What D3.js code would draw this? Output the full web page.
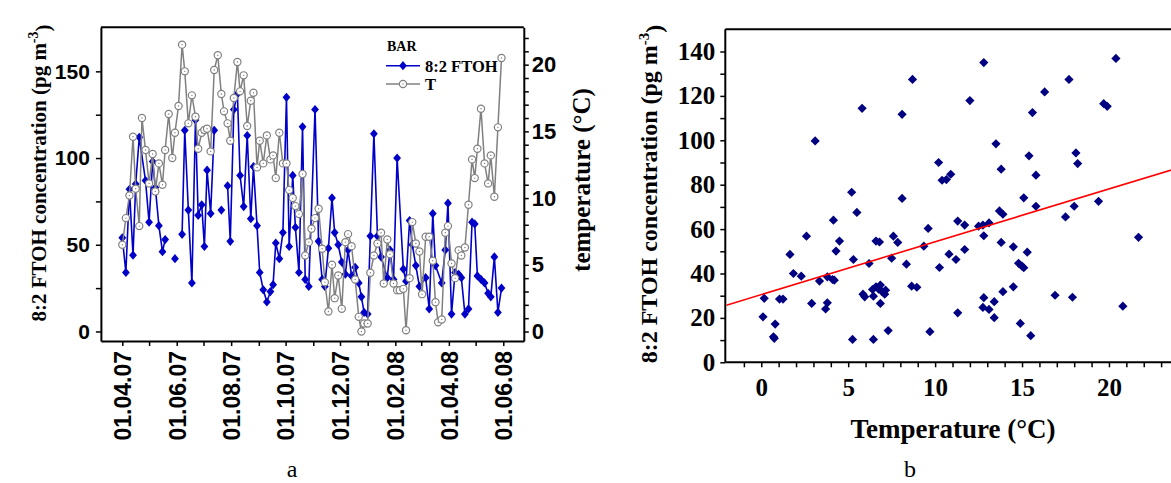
<!DOCTYPE html>
<html><head><meta charset="utf-8">
<script src="https://cdn.jsdelivr.net/npm/d3@7"></script>
<style>body{margin:0;background:#fff;} svg{display:block;}</style>
</head><body>
<svg id="c" width="1171" height="483"></svg>
<script>
// ---------------- DATA ----------------
// Panel a: temperature time series (right axis)
const tDates = ["2007-04-01","2007-04-05","2007-04-09","2007-04-13","2007-04-16","2007-04-20","2007-04-23","2007-04-27","2007-05-01","2007-05-05",
"2007-05-08","2007-05-12","2007-05-16","2007-05-19","2007-05-23","2007-05-27","2007-05-30","2007-06-03","2007-06-07","2007-06-10",
"2007-06-14","2007-06-18","2007-06-22","2007-06-25","2007-06-29","2007-07-02","2007-07-05","2007-07-09","2007-07-13","2007-07-17",
"2007-07-21","2007-07-24","2007-07-28","2007-07-31","2007-08-04","2007-08-08","2007-08-11","2007-08-15","2007-08-19","2007-08-23",
"2007-08-26","2007-08-30","2007-09-02","2007-09-06","2007-09-10","2007-09-14","2007-09-17","2007-09-20","2007-09-24","2007-09-28",
"2007-10-02","2007-10-05","2007-10-09","2007-10-12","2007-10-16","2007-10-20","2007-10-23","2007-10-27","2007-10-30","2007-11-03",
"2007-11-07","2007-11-11","2007-11-14","2007-11-18","2007-11-22","2007-11-25","2007-11-29","2007-12-03","2007-12-07","2007-12-10",
"2007-12-14","2007-12-18","2007-12-22","2007-12-25","2007-12-28","2008-01-01","2008-01-04","2008-01-08","2008-01-12","2008-01-16",
"2008-01-19","2008-01-23","2008-01-26","2008-01-30","2008-02-03","2008-02-06","2008-02-10","2008-02-13","2008-02-17","2008-02-20",
"2008-02-24","2008-02-28","2008-03-02","2008-03-06","2008-03-10","2008-03-14","2008-03-17","2008-03-20","2008-03-24","2008-03-28",
"2008-03-31","2008-04-04","2008-04-08","2008-04-12","2008-04-15","2008-04-19","2008-04-23","2008-04-27","2008-04-30","2008-05-03",
"2008-05-07","2008-05-11","2008-05-15","2008-05-18","2008-05-22","2008-05-26","2008-05-30"];
const tValues = [6.5,8.5,10.2,14.6,10.7,7.9,16,13.6,11.1,13.3,
10.5,12.6,11,13.6,16.3,13,14.9,16.9,21.5,19.5,
15.6,17.7,16.1,13.7,14.9,15.1,15.2,13.5,19.6,20.7,
17.8,16.5,15.6,14.3,17.5,20.2,18,19.2,15.4,17.3,
17.9,12.3,14.3,12.6,14.7,12.9,13.2,11.5,14.9,12.6,
12.6,10.6,10,9.4,8.8,11.8,5.7,6.7,7.7,8.5,
9.2,6.2,3.7,1.5,5,2.5,4.2,1.7,6.7,7.3,
6.4,3.9,1.1,0,0.6,0.6,4.4,5.7,6.6,7.4,
3.6,6.9,5.8,3.6,3.1,3.1,3.2,0.1,4,8.2,
6.6,6,2.8,7.1,7.1,5.3,2.2,0.7,0.9,7.4,
7.9,5.1,4,6.1,5.7,6.3,9.5,12.9,11.5,13.7,
16.7,12.6,11.1,13.2,10.1,15.3,20.5];

// Panel a: 8:2 FTOH time series (left axis); null = break in the line
const ftohDates = ["2007-04-01","2007-04-05","2007-04-09","2007-04-13","2007-04-16","2007-04-20","2007-04-27","2007-05-01","2007-05-05","2007-05-08",
"2007-05-12","2007-05-16","2007-05-19","2007-05-23","2007-05-30","2007-06-03","2007-06-07","2007-06-10","2007-06-14","2007-06-18",
"2007-06-22","2007-06-25","2007-06-29","2007-07-02","2007-07-05","2007-07-09","2007-07-13","2007-07-17","2007-07-21","2007-07-24",
"2007-07-28","2007-07-31","2007-08-04","2007-08-08","2007-08-11","2007-08-15","2007-08-19","2007-08-23","2007-08-26","2007-08-30",
"2007-09-02","2007-09-06","2007-09-10","2007-09-14","2007-09-17","2007-09-20","2007-09-24","2007-09-28","2007-10-02","2007-10-05",
"2007-10-09","2007-10-12","2007-10-16","2007-10-20","2007-10-23","2007-10-27","2007-11-03","2007-11-07","2007-11-11","2007-11-14",
"2007-11-18","2007-11-22","2007-11-25","2007-11-29","2007-12-03","2007-12-07","2007-12-10","2007-12-14","2007-12-18","2007-12-22",
"2007-12-25","2007-12-28","2008-01-01","2008-01-04","2008-01-08","2008-01-12","2008-01-16","2008-01-23","2008-01-26","2008-01-30",
"2008-02-03","2008-02-10","2008-02-13","2008-02-17","2008-02-20","2008-02-24","2008-02-28","2008-03-06","2008-03-10","2008-03-14",
"2008-03-17","2008-03-24","2008-03-28","2008-03-31","2008-04-04","2008-04-08","2008-04-12","2008-04-15","2008-04-19","2008-04-23",
"2008-04-27","2008-04-30","2008-05-03","2008-05-07","2008-05-11","2008-05-15","2008-05-18","2008-05-22","2008-05-26","2008-05-30"];
const ftohValues = [54,34,82,44,85,112,87,63,98,83,
61,46,53,null,42,null,56,116,70,28,
122,67,73,49,93,68,116,null,70,null,
84,52,128,137,90,72,113,65,95,61,
34,24,17,23,27,51,42,57,135,49,
90,60,34,118,30,26,128,52,30,26,
48,77,57,50,40,33,47,32,37,28,
20,11,10,55,114,55,43,31,47,30,
100,36,29,64,50,38,26,31,13,68,
38,28,47,74,10,34,33,31,10,13,
63,62,32,30,28,22,20,43,11,25];

const xTickLabelsA = ["01.04.07","01.06.07","01.08.07","01.10.07","01.12.07","01.02.08","01.04.08","01.06.08"];

// Panel b: scatter FTOH vs temperature
const scatterT = [3.1,5.8,5.2,8.7,12.8,8.1,12.0,16.3,17.7,20.4,
15.6,19.7,19.9,13.5,15.4,18.1,18.2,10.2,13.8,15.8,
10.4,10.65,10.9,8.1,15.1,19.4,5.5,4.15,2.6,4.5,
4.3,1.65,5.3,6.6,6.8,6.2,7.5,1.85,2.3,3.35,
3.8,4.1,4.2,0.17,1.05,1.25,2.9,3.8,3.7,0.1,
0.8,0.7,0.75,5.25,6.45,5.85,5.95,6.4,6.45,6.6,
6.75,6.85,6.95,7.15,7.1,6.85,7.3,15.8,18.0,17.5,
13.7,13.9,11.3,11.7,9.6,12.5,12.75,13.1,12.8,7.6,
7.85,9.35,13.8,14.5,15.3,11.7,10.8,11.2,8.35,10.25,
14.8,15.0,15.1,14.5,13.9,12.8,13.4,12.75,13.1,13.4,
11.3,8.65,8.95,9.7,14.9,15.5,16.9,17.9,20.8,21.7];
const scatterFTOH = [99.7,114.4,76.6,127.4,135,111.7,117.9,121.8,127.4,136.9,
112.5,116.5,115.3,98.4,93,94.3,89.5,90,87,84.3,
82,82.3,84.7,73.8,74.1,72.5,67.5,64,56.8,54.6,
50.1,48.6,46.3,54.6,54.2,44.5,46.9,40,38.8,36.6,
38.5,37.3,37,28.8,28.5,28.5,26.5,26.8,24,20.5,
17.2,11.5,10.8,10.3,10.3,30.7,29.5,32.8,29.8,34,
33,34.8,31.8,32.5,30.7,26.5,14.3,70.3,70.3,65.5,
68.2,66.7,63.6,61.8,60.3,61.3,61.8,62.8,57,56.8,
54,52.3,54,52,49.6,50.8,48.7,46.3,44.2,42.7,
44.6,43.3,42.6,34,31.8,29.1,27.3,24.7,23.8,20.1,
22.3,34.3,33.8,13.8,17.5,12,30.2,29.3,25.3,56.3];
// linear fit line
const fitIntercept = 30.5;
const fitSlope = 2.38;

// ---------------- DRAW ----------------
const svg = d3.select("#c");
svg.append("rect").attr("width",1171).attr("height",483).attr("fill","#fff");
const serif = "'Liberation Serif','Times New Roman',serif";
const sans = "'Liberation Sans',Arial,sans-serif";
const parse = d3.utcParse("%Y-%m-%d");
const fmtA = d3.utcFormat("%d.%m.%y");

function styleAxis(g, font, size){
  g.select(".domain").attr("stroke","#000").attr("stroke-width",2);
  g.selectAll(".tick line").attr("stroke","#000").attr("stroke-width",1.5);
  g.selectAll(".tick text").attr("font-family",font).attr("font-size",size)
    .attr("font-weight","bold").attr("fill","#000");
}

// ===== Panel a =====
const A = {left:100.9, right:523.8, top:27.3, bottom:341};
const xA = d3.scaleUtc().domain([parse("2007-03-08"), parse("2008-06-24")]).range([A.left, A.right]);
const yF = d3.scaleLinear().domain([-5.5, 175.4]).range([A.bottom, A.top]);
const yT = d3.scaleLinear().domain([-0.71, 22.8]).range([A.bottom, A.top]);

const gA = svg.append("g");
gA.append("line").attr("x1",A.left).attr("x2",A.right).attr("y1",A.top).attr("y2",A.top)
  .attr("stroke","#000").attr("stroke-width",2);

const monthTicks = d3.utcMonth.range(parse("2007-04-01"), parse("2008-06-02"));
const gxA = gA.append("g").attr("transform",`translate(0,${A.bottom})`)
  .call(d3.axisBottom(xA).tickValues(monthTicks).tickSize(5).tickSizeOuter(0)
    .tickFormat(d => xTickLabelsA.includes(fmtA(d)) ? fmtA(d) : ""));
styleAxis(gxA, sans, 23);
gxA.selectAll(".tick text").attr("transform","rotate(-90)").attr("text-anchor","end")
  .attr("x",-10).attr("y",0).attr("dy","0.36em");

const gyF = gA.append("g").attr("transform",`translate(${A.left},0)`)
  .call(d3.axisLeft(yF).tickValues(d3.range(0,151,25)).tickSize(5).tickSizeOuter(0).tickPadding(6)
    .tickFormat(d => d % 50 === 0 ? d : ""));
styleAxis(gyF, sans, 21);

const gyT = gA.append("g").attr("transform",`translate(${A.right},0)`)
  .call(d3.axisRight(yT).tickValues(d3.range(0,23,1)).tickSize(5).tickSizeOuter(0).tickPadding(3)
    .tickFormat(d => d % 5 === 0 ? d : ""));
styleAxis(gyT, sans, 22);

const blue = "#0000c8", gray = "#808080";
const diamondA = "M0,-4.6L3.9,0L0,4.6L-3.9,0Z";

const ftohData = ftohDates.map((d,i)=>({date:parse(d), v:ftohValues[i]}));
const tData = tDates.map((d,i)=>({date:parse(d), v:tValues[i]}));

gA.append("path").datum(ftohData)
  .attr("d", d3.line().defined(d=>d.v!=null).x(d=>xA(d.date)).y(d=>yF(d.v)))
  .attr("fill","none").attr("stroke",blue).attr("stroke-width",1.6);
gA.selectAll(".dA").data(ftohData.filter(d=>d.v!=null)).join("path")
  .attr("d",diamondA).attr("transform",d=>`translate(${xA(d.date)},${yF(d.v)})`).attr("fill",blue);

gA.append("path").datum(tData)
  .attr("d", d3.line().x(d=>xA(d.date)).y(d=>yT(d.v)))
  .attr("fill","none").attr("stroke",gray).attr("stroke-width",1.5);
const tPts = gA.selectAll(".cA").data(tData).join("g")
  .attr("transform",d=>`translate(${xA(d.date)},${yT(d.v)})`);
tPts.append("circle").attr("r",3.6).attr("fill","#fff").attr("stroke",gray).attr("stroke-width",1.2);
tPts.append("circle").attr("r",0.7).attr("fill",gray);

// legend
const lg = gA.append("g");
lg.append("text").attr("x",387).attr("y",51).text("BAR")
  .attr("font-family",serif).attr("font-weight","bold").attr("font-size",14);
lg.append("line").attr("x1",386).attr("x2",420).attr("y1",65.7).attr("y2",65.7).attr("stroke",blue).attr("stroke-width",1.6);
lg.append("path").attr("d",diamondA).attr("transform","translate(403,65.7)").attr("fill",blue);
lg.append("text").attr("x",425).attr("y",71.5).text("8:2 FTOH")
  .attr("font-family",serif).attr("font-weight","bold").attr("font-size",16.5);
lg.append("line").attr("x1",386).attr("x2",420).attr("y1",84).attr("y2",84).attr("stroke",gray).attr("stroke-width",1.5);
lg.append("circle").attr("cx",403).attr("cy",84).attr("r",3.6).attr("fill","#fff").attr("stroke",gray).attr("stroke-width",1.2);
lg.append("circle").attr("cx",403).attr("cy",84).attr("r",0.7).attr("fill",gray);
lg.append("text").attr("x",425).attr("y",90).text("T")
  .attr("font-family",serif).attr("font-weight","bold").attr("font-size",16.5);

// axis titles panel a
const yTitleA = gA.append("text").attr("transform","translate(46,173) rotate(-90)")
  .attr("text-anchor","middle").attr("font-family",serif).attr("font-weight","bold").attr("font-size",21);
yTitleA.append("tspan").text("8:2 FTOH concentration (pg m");
yTitleA.append("tspan").attr("dy","-0.55em").attr("font-size",14).text("-3");
yTitleA.append("tspan").attr("dy","0.55em").text(")");
gA.append("text").attr("transform","translate(590,180) rotate(-90)")
  .attr("text-anchor","middle").attr("font-family",serif).attr("font-weight","bold").attr("font-size",25)
  .text("temperature (°C)");
gA.append("text").attr("x",292).attr("y",477).attr("text-anchor","middle")
  .attr("font-family",serif).attr("font-size",24).text("a");

// ===== Panel b =====
const B = {left:725.3, top:29.3, bottom:362.3};
const xB = d3.scaleLinear().domain([-2,24]).range([726.5,1178.5]);
const yB = d3.scaleLinear().domain([0,150]).range([B.bottom,B.top]);
const gB = svg.append("g");
gB.append("line").attr("x1",B.left).attr("x2",1171).attr("y1",B.top).attr("y2",B.top)
  .attr("stroke","#000").attr("stroke-width",2);

const gxB = gB.append("g").attr("transform",`translate(0,${B.bottom})`)
  .call(d3.axisBottom(xB).tickValues(d3.range(-1,24,1)).tickSize(5).tickSizeOuter(0).tickPadding(11)
    .tickFormat(d => d % 5 === 0 ? d : ""));
gxB.select(".domain").attr("d",`M${B.left},0H1171`);
styleAxis(gxB, serif, 25);

const gyB = gB.append("g").attr("transform",`translate(${B.left},0)`)
  .call(d3.axisLeft(yB).tickValues(d3.range(0,141,10)).tickSize(5).tickSizeOuter(0).tickPadding(5)
    .tickFormat(d => d % 20 === 0 ? d : ""));
gyB.select(".domain").attr("d",`M0,${B.bottom}V${B.top}`);
styleAxis(gyB, serif, 25);

const diamondB = "M0,-4.6L4.6,0L0,4.6L-4.6,0Z";
gB.selectAll(".dB").data(scatterT.map((t,i)=>({t, f:scatterFTOH[i]}))).join("path")
  .attr("d",diamondB).attr("transform",d=>`translate(${xB(d.t)},${yB(d.f)})`).attr("fill","#000080");

gB.append("defs").append("clipPath").attr("id","clipB").append("rect")
  .attr("x",B.left).attr("y",B.top).attr("width",1171-B.left).attr("height",B.bottom-B.top);
gB.append("line").attr("clip-path","url(#clipB)")
  .attr("x1",xB(-2)).attr("y1",yB(fitIntercept+fitSlope*-2))
  .attr("x2",xB(24)).attr("y2",yB(fitIntercept+fitSlope*24))
  .attr("stroke","#ff0000").attr("stroke-width",1.6);

const yTitleB = gB.append("text").attr("transform","translate(657,194) rotate(-90)")
  .attr("text-anchor","middle").attr("font-family",serif).attr("font-weight","bold").attr("font-size",24);
yTitleB.append("tspan").text("8:2 FTOH concentration (pg m");
yTitleB.append("tspan").attr("dy","-0.55em").attr("font-size",15).text("-3");
yTitleB.append("tspan").attr("dy","0.55em").text(")");
gB.append("text").attr("x",953).attr("y",438).attr("text-anchor","middle")
  .attr("font-family",serif).attr("font-weight","bold").attr("font-size",27).text("Temperature (°C)");
gB.append("text").attr("x",910).attr("y",477).attr("text-anchor","middle")
  .attr("font-family",serif).attr("font-size",24).text("b");
</script>
</body></html>
